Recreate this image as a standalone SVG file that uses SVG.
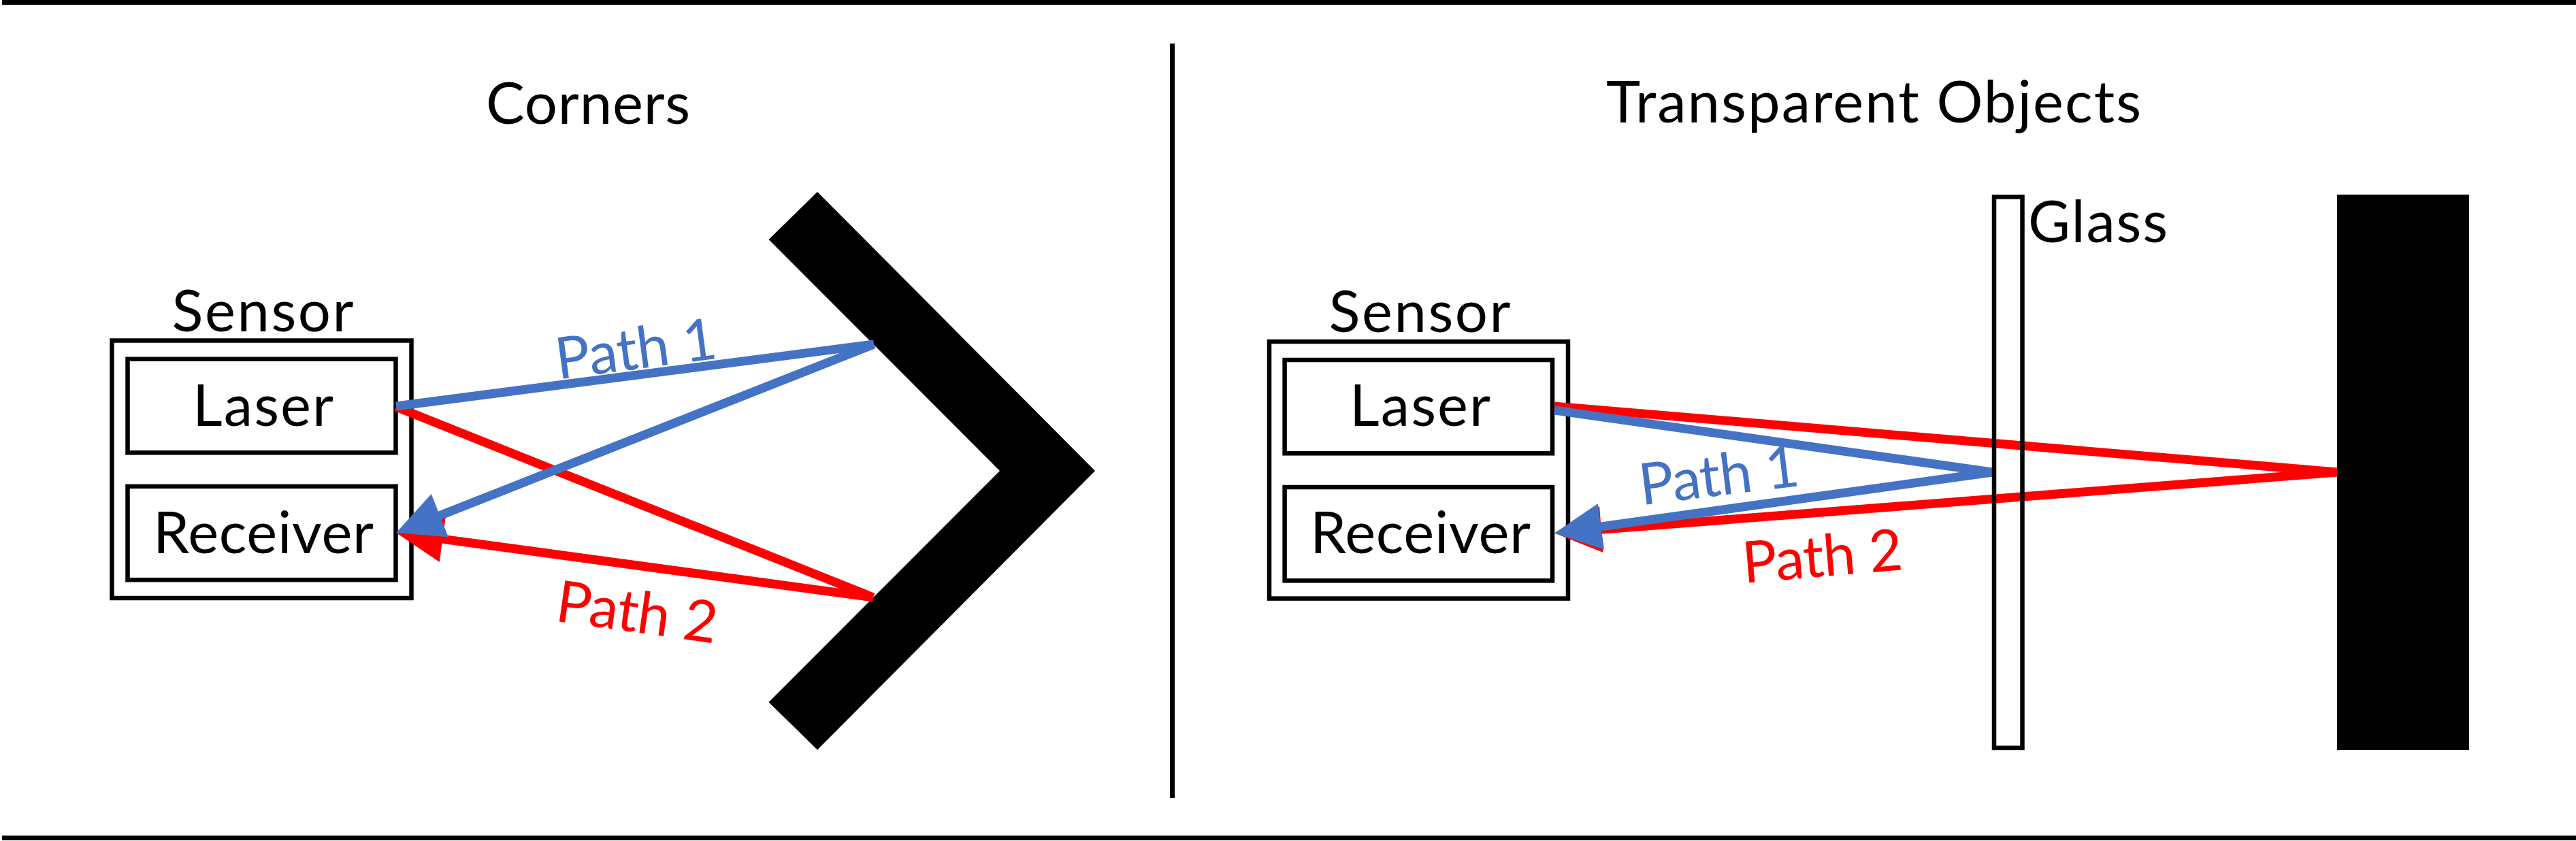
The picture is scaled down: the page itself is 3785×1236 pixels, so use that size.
<svg xmlns="http://www.w3.org/2000/svg" width="3785" height="1236" viewBox="0 0 3785 1236">
<style>
text{font-family:Lato,"Liberation Sans",sans-serif;font-size:85px;fill:#000;text-anchor:middle}
.box{fill:#fff;stroke:#000;stroke-width:6.5}
.ray{fill:none;stroke-width:13}
.blue{stroke:#4472C4}
.red{stroke:#FF0000}
.tb{fill:#4472C4}
.tr{fill:#FF0000}
.solid{fill:#000}
</style>
<defs>
<marker id="arrowBlue" markerUnits="userSpaceOnUse" markerWidth="70" markerHeight="68" refX="14" refY="34" orient="auto" overflow="visible"><path d="M0,0 L69,34 L0,68 Z" fill="#4472C4"/></marker>
<marker id="arrowRed" markerUnits="userSpaceOnUse" markerWidth="70" markerHeight="68" refX="14" refY="34" orient="auto" overflow="visible"><path d="M0,0 L69,34 L0,68 Z" fill="#FF0000"/></marker>
</defs>
<rect width="3785" height="1236" fill="#fff"/>
<g id="frame">
<rect class="solid" x="3" y="0" width="3782" height="7"/>
<rect class="solid" x="3" y="1228" width="3782" height="7"/>
<rect class="solid" x="1719" y="64" width="7" height="1109"/>
</g>
<g id="titles">
<text x="864" y="182" textLength="300">Corners</text>
<text x="2753" y="180" textLength="786">Transparent Objects</text>
</g>
<g id="sensor-left">
<text x="386" y="487" textLength="267">Sensor</text>
<rect class="box" x="164.5" y="500.5" width="440" height="378.5"/>
<g id="laser-left"><rect class="box" x="187.5" y="527.7" width="394" height="137.6"/><text x="386.5" y="625.7" textLength="207">Laser</text></g>
<g id="receiver-left"><rect class="box" x="187.5" y="714.8" width="394" height="137.4"/><text x="387" y="813" textLength="324">Receiver</text></g>
</g>
<g id="corner">
<polygon class="solid" points="1201,282 1609,692 1201,1102 1129.5,1032 1469,692 1129.5,352"/>
</g>
<g id="sensor-right">
<text x="2086" y="488" textLength="267">Sensor</text>
<rect class="box" x="1865" y="502" width="439" height="377.6"/>
<g id="laser-right"><rect class="box" x="1887.6" y="529" width="393.4" height="137.3"/><text x="2086.5" y="626.3" textLength="207">Laser</text></g>
<g id="receiver-right"><rect class="box" x="1887.6" y="716" width="393.4" height="137.4"/><text x="2087" y="813.4" textLength="324">Receiver</text></g>
</g>
<g id="connectors">
<path class="ray red" d="M582,598 L1283,878"/>
<path class="ray red" d="M1283,878 L636.5,790.4" marker-end="url(#arrowRed)"/>
<path class="ray blue" d="M582,597 L1284,506"/>
<path class="ray blue" d="M1284,506 L633.2,762.8" marker-end="url(#arrowBlue)"/>
<path class="ray red" d="M2284,597 L3434,694"/>
<path class="ray red" d="M3434,694 L2338.8,779.2" marker-end="url(#arrowRed)"/>
<path class="ray blue" d="M2284,603 L2927,694"/>
<path class="ray blue" d="M2927,694 L2338.5,775.9" marker-end="url(#arrowBlue)"/>
</g>
<g id="glass">
<rect x="2930" y="289.4" width="41.5" height="809.6" fill="none" stroke="#000" stroke-width="6.5"/>
<text x="2980" y="356.4" textLength="205" style="text-anchor:start">Glass</text>
</g>
<g id="wall">
<rect class="solid" x="3434" y="286" width="194" height="816"/>
</g>
<g id="labels">
<text class="tb" transform="translate(938,542) rotate(-7.5)" textLength="238">Path 1</text>
<text class="tr" transform="translate(932,929) rotate(8)" textLength="238">Path 2</text>
<text class="tb" transform="translate(2529,728) rotate(-7)" textLength="236">Path 1</text>
<text class="tr" transform="translate(2680,847) rotate(-4.9)" textLength="236">Path 2</text>
</g>
</svg>
